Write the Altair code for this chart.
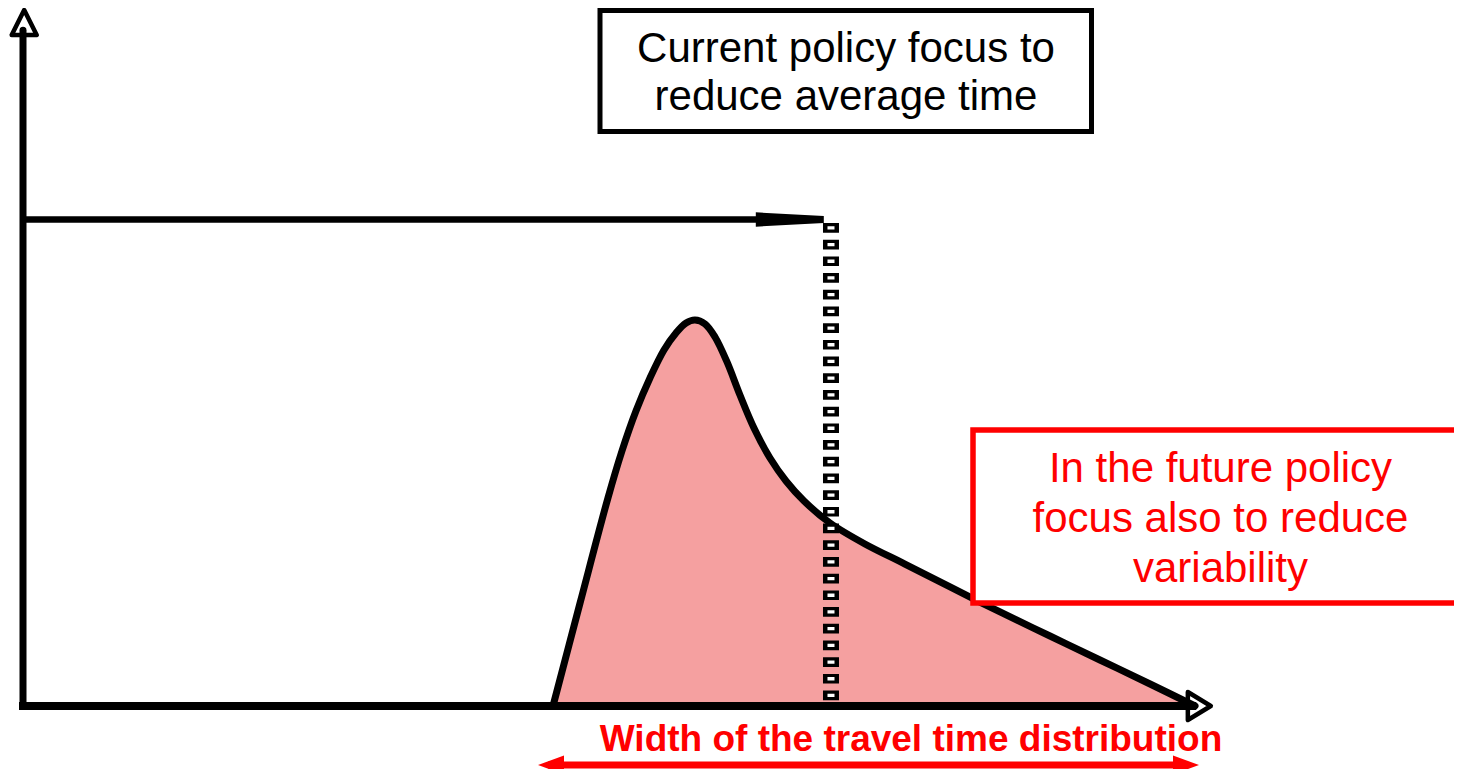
import altair as alt
import pandas as pd

# ---- data (time units 0-100 along x, frequency 0-100 along y)
curve_time = [44.65, 46.93, 49.28, 50.46, 51.64, 52.82, 54.00, 55.01, 55.86, 56.61,
              57.46, 58.30, 59.31, 60.40, 61.58, 62.93, 64.28, 65.80, 67.99, 70.93,
              74.30, 78.10, 82.31, 86.52, 90.73, 94.95, 98.74]
curve_freq = [0.0, 14.80, 29.89, 36.64, 42.39, 47.13, 51.15, 53.59, 55.03, 55.46,
              54.89, 53.02, 49.43, 44.68, 39.94, 35.63, 32.33, 29.45, 26.29, 23.28,
              20.40, 17.10, 13.51, 10.06, 6.61, 3.16, 0.0]
average_time = 68.07
average_level = 69.9
dotted_top = 69.4
axis_x_end = 98.5
axis_y_end = 97.1

box1_lines = ["Current policy focus to", "reduce average time"]
box2_lines = ["In the future policy", "focus also to reduce", "variability"]
width_label = "Width of the travel time distribution"

RED = "#FF0000"
FILL = "#F5A0A0"
FONT = "Liberation Sans"

xs = alt.Scale(domain=[0, 100], range=[15, 1202], nice=False, zero=False)
ys = alt.Scale(domain=[0, 100], range=[698, 2], nice=False, zero=False)

curve = pd.DataFrame({"t": curve_time, "f": curve_freq})
one = pd.DataFrame({"a": [0]})

X = lambda field: alt.X(field, type="quantitative", scale=xs, axis=None)
Y = lambda field: alt.Y(field, type="quantitative", scale=ys, axis=None)
XD = lambda v: alt.XDatum(v, scale=xs, axis=None)
YD = lambda v: alt.YDatum(v, scale=ys, axis=None)

area = alt.Chart(curve).mark_area(color=FILL, interpolate="catmull-rom").encode(x=X("t"), y=Y("f"))
line = alt.Chart(curve).mark_line(color="black", strokeWidth=7, interpolate="catmull-rom",
                                  strokeJoin="round", strokeCap="round").encode(x=X("t"), y=Y("f"))

x_axis = alt.Chart(one).mark_rule(color="black", strokeWidth=8, strokeCap="square").encode(
    x=XD(0), x2=alt.X2Datum(axis_x_end), y=YD(0))
y_axis = alt.Chart(one).mark_rule(color="black", strokeWidth=7, strokeCap="round").encode(
    x=XD(0), y=YD(0), y2=alt.Y2Datum(axis_y_end))
y_head = alt.Chart(one).mark_point(shape="M 0 -1 L 1 1 L -1 1 Z", size=625, filled=False,
                                   color="black", strokeWidth=4.5, opacity=1,
                                   strokeJoin="round").encode(x=XD(0.1), y=YD(98.2))
x_head = alt.Chart(one).mark_point(shape="M -0.82 -1 L 0.82 0 L -0.82 1 Z", size=784, filled=False,
                                   color="black", strokeWidth=4.5, opacity=1,
                                   strokeJoin="round").encode(x=XD(99.1), y=YD(0))

dots_black = alt.Chart(one).mark_rule(color="black", strokeWidth=16, strokeDash=[9.7, 7.0],
                                      strokeCap="butt").encode(
    x=XD(average_time), y=YD(dotted_top), y2=alt.Y2Datum(0))
dots_white = alt.Chart(one).mark_rule(color="white", strokeWidth=7, strokeDash=[3.3, 13.4],
                                      strokeDashOffset=13.5, strokeCap="butt").encode(
    x=XD(average_time), y=YD(dotted_top), y2=alt.Y2Datum(0))

avg_arrow = alt.Chart(one).mark_rule(color="black", strokeWidth=6.5).encode(
    x=XD(0), x2=alt.X2Datum(62.5), y=YD(average_level))
avg_head = alt.Chart(one).mark_point(shape="M -1 -0.21 L 1 -0.1 L 1 0.1 L -1 0.21 Z", size=4624,
                                     filled=True, color="black", opacity=1).encode(
    x=XD(64.6), y=YD(average_level))

box1 = alt.Chart(one).mark_rect(fill="white", stroke="black", strokeWidth=5).encode(
    x=alt.value(592), x2=alt.value(1083.5), y=alt.value(2.5), y2=alt.value(123.5))
box1_text = alt.Chart(one).mark_text(text=box1_lines, font=FONT, fontSize=42, lineHeight=48,
                                     color="black", align="center", baseline="alphabetic").encode(
    x=alt.value(838), y=alt.value(54))

box2 = alt.Chart(one).mark_rect(fill="white", stroke=RED, strokeWidth=5.5).encode(
    x=alt.value(965), x2=alt.value(1470), y=alt.value(422), y2=alt.value(595))
box2_text = alt.Chart(one).mark_text(text=box2_lines, font=FONT, fontSize=42, lineHeight=50,
                                     color=RED, align="center", baseline="alphabetic").encode(
    x=alt.value(1212.5), y=alt.value(474))

width_text = alt.Chart(one).mark_text(text=width_label, font=FONT, fontSize=37, fontWeight="bold",
                                      color=RED, align="center", baseline="alphabetic").encode(
    x=alt.value(903), y=alt.value(743))
width_line = alt.Chart(one).mark_rule(color=RED, strokeWidth=7).encode(
    x=alt.value(540), x2=alt.value(1180), y=alt.value(757))
width_left = alt.Chart(one).mark_point(shape="M -1 0 L 1 -0.73 L 1 0.73 Z", size=676, filled=True,
                                       color=RED, opacity=1).encode(x=alt.value(543), y=alt.value(757))
width_right = alt.Chart(one).mark_point(shape="M 1 0 L -1 -0.73 L -1 0.73 Z", size=676, filled=True,
                                        color=RED, opacity=1).encode(x=alt.value(1178), y=alt.value(757))

chart = alt.layer(
    area, line, x_axis, y_axis, y_head, x_head, dots_black, dots_white, avg_arrow, avg_head,
    box1, box1_text, box2, box2_text, width_text, width_line, width_left, width_right
).properties(
    width=1446, height=761, padding=0, autosize=alt.AutoSizeParams(type="none"),
    background="white"
).configure_view(stroke=None)

chart.save("out.html", embed_options={"renderer": "svg", "actions": False})
